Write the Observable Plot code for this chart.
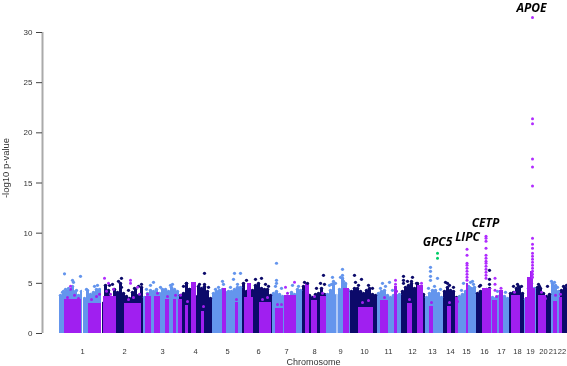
<!DOCTYPE html>
<html><head><meta charset="utf-8">
<style>html,body{margin:0;padding:0;background:#fff}svg{display:block;filter:blur(0.4px)}rect{shape-rendering:crispEdges}</style>
<script src="https://cdn.jsdelivr.net/npm/d3@7"></script>
<script src="https://cdn.jsdelivr.net/npm/@observablehq/plot@0.6"></script>
</head><body><script>
const BLUE="#6495ed",NAVY="#0c0a6a",PURPLE="#a01ff0",GREEN="#00cd66",VIOLET="#b02cff";
const chromNames=["1","2","3","4","5","6","7","8","9","10","11","12","13","14","15","16","17","18","19","20","21","22"];
const chromTicks=[82,124,162,195,227,258,286,314,340,364,388,412,432,450,466,484,501,517,530,543,552.5,561.5];
const chromStart=[60,102,144,180,213,243,273,303,327,351,378,402,426,444,459,477,492,510,525,537,552,561];
const chromTops=[
[3.8,4.2,4.3,4.3,4.7,4.2,3.8,4.2,3.5,4.3,3.9,4.1,4.4,4.4],
[3.0,4.8,4.3,3.6,4.4,4.1,5.0,4.0,3.7,3.5,4.1,4.4,3.8,4.6],
[3.6,4.0,4.3,4.2,4.4,4.0,4.4,4.4,4.2,4.6,4.4,4.2],
[3.8,4.0,5.0,4.4,4.1,3.7,4.7,4.5,4.7,4.2,3.5],
[4.0,4.2,4.3,4.4,4.1,4.2,4.2,4.4,4.6,4.6],
[5.0,4.2,4.1,4.3,4.8,5.0,4.5,4.4,4.4,3.8],
[4.0,4.2,3.9,3.7,3.6,3.6,4.1,3.9,4.4,4.3],
[4.7,4.6,3.8,3.6,3.9,4.0,4.5,3.9],
[3.9,4.3,5.0,3.8,4.4,5.5,5.0,4.3],
[4.2,4.5,4.5,4.2,4.0,4.3,4.5,3.9,3.8],
[4.0,4.2,4.3,3.8,3.6,3.8,3.8,3.9],
[4.2,4.6,4.8,5.0,4.5,5.0,4.6,3.9],
[3.6,4.0,4.3,4.3,4.0,3.6],
[4.2,4.6,4.3,4.2,3.6],
[3.7,3.9,4.2,4.7,4.5,4.6],
[4.0,4.2,4.3,4.4,4.5],
[3.6,3.5,3.7,3.8,3.7,3.5],
[4.0,4.1,4.5,4.6,4.0],
[3.4,4.5,5.0,4.5],
[4.6,4.5,4.0,3.7,3.9],
[5.0,4.8,4.2],
[4.3,4.6,4.5]];
const purpleStart=[64,88,103,124,145,154,165,173,178,185,191,201,222,235,244,247,251,259,275,284,305,311,320,343,358,380,394,407,417,429,447,455,466,482,492,499,511,525,527,530,533,538,553,559];
const purpleEnd=  [81,101,116,141,151,160,169,176,182,188,196,204,226,238,247,251,253,271,283,296,309,317,326,349,373,388,397,412,423,433,451,458,468,491,497,503,520,527,530,533,535,546,557,562];
const purpleTop=  [3.4,3.0,3.7,3.0,3.7,3.7,3.4,3.4,3.4,2.8,5.1,2.2,4.5,3.1,3.6,5.0,3.6,3.1,2.5,3.8,5.0,3.3,3.7,4.5,2.6,3.3,4.7,3.0,4.8,2.7,2.7,3.6,5.0,4.5,3.3,4.3,3.8,3.6,5.6,6.2,4.5,3.8,3.2,3.6];
const gapX=[82,101,336.5];
const blueX=[64,80,72,73,153,222,223,234,240,233,276,276,276,332,331,342,342,382,389,430,430,430,430,437,463,470,472,343,335,
 62,65,68,76,86,94,97,146,150,160,170,172,215,218,230,237,275,281,292,298,329,333,340,345,380,385,392,428,434,440,461,469,473,497,505,551,554,557];
const blueY=[5.95,5.7,5.3,5.1,5.1,5.2,4.9,6.0,6.0,5.4,7.0,5.3,5.0,5.6,4.9,6.4,5.8,5.0,5.1,6.6,6.2,5.7,5.3,5.5,5.0,5.1,5.2,5.2,5.0,
 4.1,4.4,4.5,4.3,4.4,4.7,4.8,4.4,4.8,4.6,4.8,4.9,4.4,4.6,4.6,4.9,4.7,4.5,4.8,4.7,4.8,5.2,5.6,4.9,4.5,4.7,4.3,4.5,4.7,4.4,4.3,4.6,4.9,4.2,4.1,5.2,5.1,4.6];
const navyX=[204,323,354,361,403,403,412,447,480,489,489,489,121,518,539,
 109,112,118,121,128,134,138,141,183,186,189,199,204,208,246,255,261,265,268,304,307,316,320,324,355,358,368,372,403,407,411,416,445,449,453,479,513,517,521,538,547,563,566];
const navyY=[6.0,5.8,5.8,5.4,5.7,5.3,5.6,5.0,4.8,6.3,5.4,4.9,5.5,4.7,4.7,
 4.8,4.9,5.2,4.6,4.3,4.5,4.7,4.9,4.7,5.0,4.4,4.9,4.9,4.6,5.3,5.4,5.5,4.9,4.7,5.1,5.0,4.5,5.0,4.9,5.1,4.8,4.8,4.5,5.0,5.2,5.2,5.0,5.1,4.8,4.6,4.7,4.7,4.9,4.7,4.9,4.7,4.7,4.8];
const violetX=[70,104,108,130,130,137,285,294,395,395,421,494.5,494.5,494.5,500.5,
 466.5,466.5,466.5,466.5,466.5,466.5,466.5,466.5,466.5,
 485.5,485.5,485.5,485.5,485.5,485.5,485.5,485.5,485.5,485.5,485.5,485.5,485.5,
 532,532,532,532,532,532,532,532,532,532,532,532,532,532,532,532,532,532,532];
const violetY=[4.7,5.5,5.0,5.3,5.0,4.6,4.6,5.1,5.3,4.9,5.0,5.5,4.9,4.3,4.5,
 8.4,7.8,7.0,6.8,6.5,6.2,5.9,5.6,5.3,
 9.7,9.5,9.2,8.5,7.8,7.5,7.2,7.0,6.7,6.4,6.1,5.8,5.5,
 31.5,21.4,20.9,17.4,16.6,14.7,9.5,8.9,8.5,8.0,7.7,7.4,7.1,6.8,6.5,6.2,5.9,5.6];
const speckX=[67,70,74,78,91,96,99,106,110,113,128,133,139,147,157,167,175,180,187,193,203,224,236,262,267,277,281,287,291,306,314,322,345,362,368,384,396,409,420,431,449,457,484,489,496,501,514,518,528,541,545,555,560];
const speckY=[3.6,4.4,3.8,3.5,3.4,3.7,3.9,4.2,3.9,4.4,3.4,3.6,3.9,3.9,4.0,3.7,3.8,3.8,3.2,4.4,2.7,4.0,3.4,3.4,3.6,2.9,2.9,4.0,3.5,4.4,3.7,4.0,4.1,3.1,3.3,3.6,4.2,3.4,4.2,3.1,3.1,3.2,4.2,4.1,3.7,3.9,4.1,3.4,5.0,4.1,3.5,3.8,3.9];
const greenX=[437,437];
const greenY=[8.0,7.5];
const geneNames=["APOE","CETP","LIPC","GPC5"];
const geneX=[531,485,467,437];
const geneY=[32.45,11.0,9.6,9.1];

const baseRows=chromTops.flatMap((tops,c)=>tops.map((t,i)=>({
  x1:chromStart[c]+i*3-1.5,x2:chromStart[c]+i*3+1.5,x:chromStart[c]+i*3,top:t,color:c%2?NAVY:BLUE})));
const purpleRows=purpleStart.map((s,i)=>({x1:s,x2:purpleEnd[i],top:purpleTop[i]}));
const pts=(xs,ys)=>xs.map((x,i)=>({x,y:ys[i]}));
const font="'Liberation Sans',Arial,sans-serif";

const chart=Plot.plot({
  width:567,height:366,marginLeft:42,marginRight:0,marginTop:32,marginBottom:33,
  style:{background:"#fff",fontFamily:font},
  x:{domain:[42,567],range:[42,567]},
  y:{domain:[0,30],range:[333,32]},
  marks:[
    Plot.rectY(baseRows,{x1:"x1",x2:"x2",y1:0,y2:"top",fill:"color"}),
    Plot.dot(baseRows,{x:"x",y:"top",r:1.7,fill:"color"}),
    Plot.rectY(purpleRows,{x1:"x1",x2:"x2",y1:0,y2:"top",fill:PURPLE}),
    Plot.dot(pts(speckX,speckY),{x:"x",y:"y",r:1.5,fill:PURPLE}),
    Plot.ruleX(gapX,{y1:-0.1,y2:6,stroke:"#fff",strokeWidth:1}),
    Plot.dot(pts(blueX,blueY),{x:"x",y:"y",r:1.6,fill:BLUE}),
    Plot.dot(pts(navyX,navyY),{x:"x",y:"y",r:1.6,fill:NAVY}),
    Plot.dot(pts(violetX,violetY),{x:"x",y:"y",r:1.5,fill:VIOLET}),
    Plot.dot(pts(greenX,greenY),{x:"x",y:"y",r:1.5,fill:GREEN}),
    Plot.ruleX([42],{y1:0,y2:30,stroke:"#aaa",strokeWidth:2}),
    Plot.axisY({ticks:d3.range(0,31,5),tickSize:6,tickPadding:4,label:null,fontSize:8,stroke:"#444",fill:"#333",tickFormat:d=>d}),
    Plot.axisX({ticks:chromTicks,tickFormat:(d,i)=>chromNames[i],tickSize:0,tickPadding:15,fontSize:7.5,fill:"#333",label:null}),
    Plot.text(["Chromosome"],{frameAnchor:"bottom",dx:8.5,dy:28.5,fontSize:9,fill:"#333",lineAnchor:"middle"}),
    Plot.text(pts(geneX,geneY).map((d,i)=>({...d,t:geneNames[i]})),{x:"x",y:"y",text:"t",fontSize:12,fontWeight:"bold",fontStyle:"italic",fill:"#000",fontFamily:"'Open Sans',sans-serif"}),
    Plot.text(["-log10 p-value"],{frameAnchor:"left",dx:-37,dy:-15,rotate:-90,textAnchor:"middle",fontSize:9.5,fill:"#333"})
  ]
});
document.body.appendChild(chart);
</script></body></html>
